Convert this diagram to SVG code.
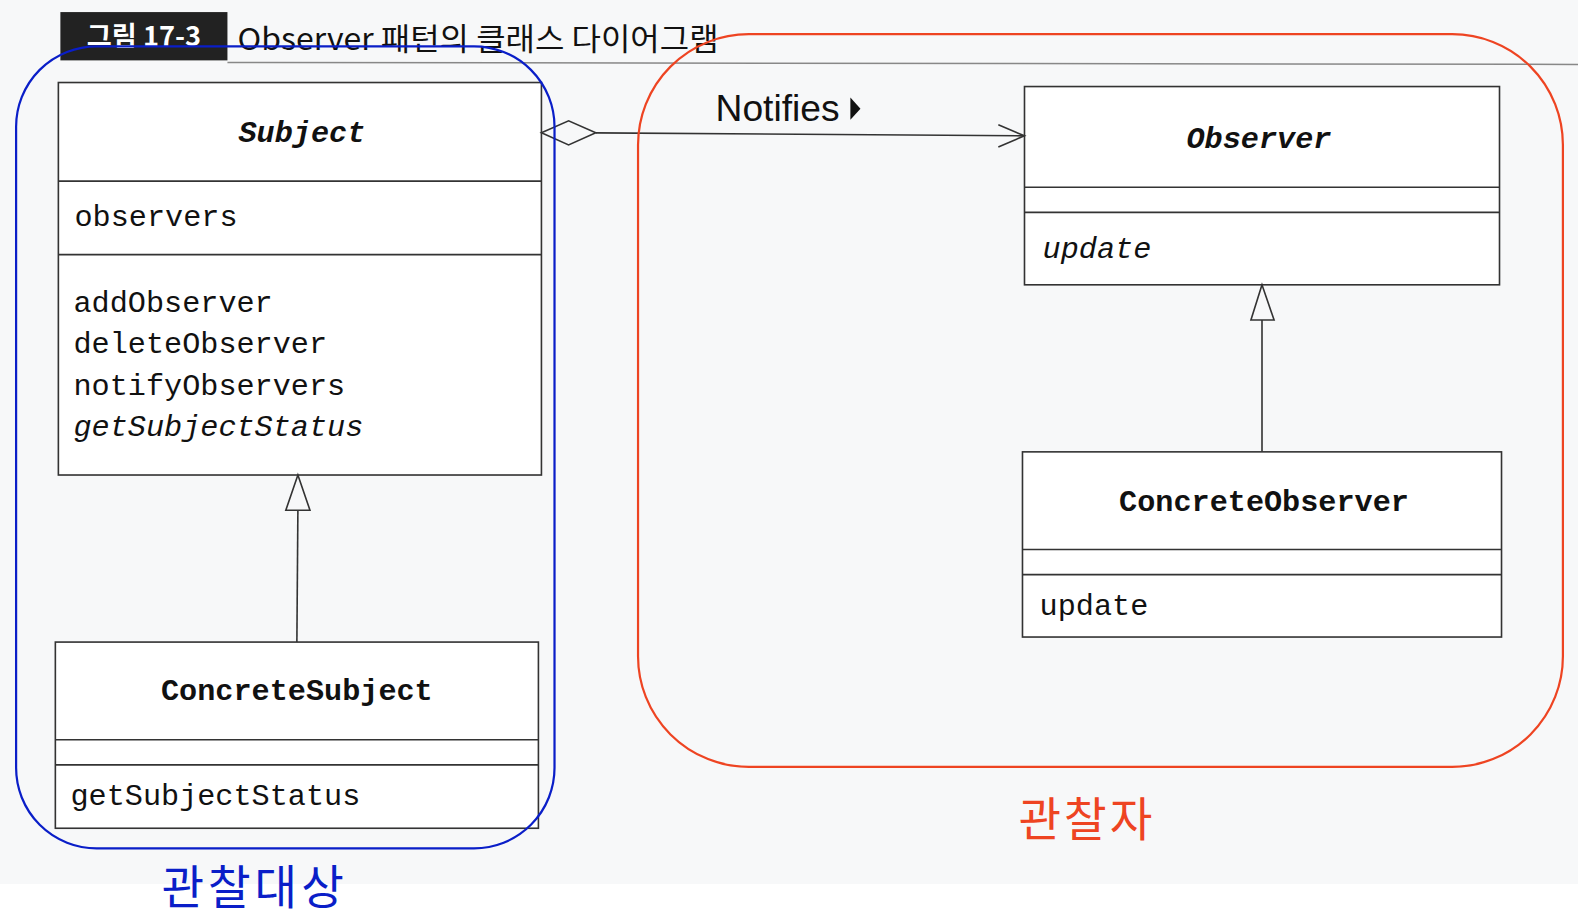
<svg xmlns="http://www.w3.org/2000/svg" width="1578" height="914" viewBox="0 0 1578 914">
<defs>
<style>
.box{fill:#fff;stroke:#333;stroke-width:1.6}
.div{stroke:#333;stroke-width:1.6}
.mono{font-family:"Liberation Mono","DejaVu Sans Mono",monospace;font-size:30px;fill:#111}
.title{font-weight:bold;font-style:italic;text-anchor:middle}
.bold{font-weight:bold;text-anchor:middle}
.it{font-style:italic}
.conn{fill:none;stroke:#333;stroke-width:1.6}
.kr{font-family:"Noto Sans CJK KR","Noto Sans",sans-serif}
</style>
</defs>
<rect x="0" y="0" width="1578" height="914" fill="#fff"/>
<rect x="0" y="0" width="1578" height="884" fill="#f7f8f9"/>
<g transform="scale(1.00638)">
<g id="header">
<rect x="60" y="12" width="166" height="48" fill="#222"/>
<text x="143" y="46" class="kr" font-size="27" font-weight="bold" fill="#fff" text-anchor="middle">그림 17-3</text>
<text x="236" y="50" class="kr" font-size="30" fill="#111" textLength="478" lengthAdjust="spacingAndGlyphs">Observer 패턴의 클래스 다이어그램</text>
<line x1="226" y1="62" x2="1568" y2="64" stroke="#888" stroke-width="1.5"/>
</g>
<g id="subject">
<rect class="box" x="58" y="82" width="480" height="390"/>
<line class="div" x1="58" y1="180" x2="538" y2="180"/>
<line class="div" x1="58" y1="253" x2="538" y2="253"/>
<text class="mono title" x="300" y="141">Subject</text>
<text class="mono" x="74" y="225">observers</text>
<text class="mono" x="73" y="310">addObserver</text>
<text class="mono" x="73" y="351">deleteObserver</text>
<text class="mono" x="73" y="392">notifyObservers</text>
<text class="mono it" x="73" y="433">getSubjectStatus</text>
</g>
<g id="concreteSubject">
<rect class="box" x="55" y="638" width="480" height="185"/>
<line class="div" x1="55" y1="735" x2="535" y2="735"/>
<line class="div" x1="55" y1="760" x2="535" y2="760"/>
<text class="mono bold" x="295" y="696">ConcreteSubject</text>
<text class="mono" x="70" y="800">getSubjectStatus</text>
</g>
<g id="observer">
<rect class="box" x="1018" y="86" width="472" height="197"/>
<line class="div" x1="1018" y1="186" x2="1490" y2="186"/>
<line class="div" x1="1018" y1="211" x2="1490" y2="211"/>
<text class="mono title" x="1251" y="147">Observer</text>
<text class="mono it" x="1036" y="256">update</text>
</g>
<g id="concreteObserver">
<rect class="box" x="1016" y="449" width="476" height="184"/>
<line class="div" x1="1016" y1="546" x2="1492" y2="546"/>
<line class="div" x1="1016" y1="571" x2="1492" y2="571"/>
<text class="mono bold" x="1256" y="508">ConcreteObserver</text>
<text class="mono" x="1033" y="611">update</text>
</g>
<g id="connectors">
<line class="conn" x1="296" y1="507" x2="295" y2="638"/>
<polygon class="conn" points="296,472 284,507 308,507" fill="#fff"/>
<line class="conn" x1="1254" y1="318" x2="1254" y2="449"/>
<polygon class="conn" points="1254,283 1243,318 1266,318" fill="#fff"/>
<polygon class="conn" points="538,132 565,120 592,132 565,144" fill="#fff"/>
<line class="conn" x1="592" y1="132" x2="1018" y2="135"/>
<polyline class="conn" points="992,124 1018,135 992,146"/>
<text x="711" y="120" font-family="Liberation Sans,Arial,sans-serif" font-size="37" fill="#111">Notifies</text>
<polygon points="845,97 855,108 845,119" fill="#111"/>
</g>
<g id="groups">
<rect x="16" y="46" width="535" height="797" rx="80" ry="80" fill="none" stroke="#0a1ec8" stroke-width="2.2"/>
<rect x="634" y="34" width="919" height="728" rx="110" ry="110" fill="none" stroke="#ee4422" stroke-width="2.2"/>
<text x="1080" y="831" class="kr" font-size="46" fill="#ee4422" text-anchor="middle" letter-spacing="3">관찰자</text>
<text x="253" y="898" class="kr" font-size="46" fill="#0a1ec8" text-anchor="middle" letter-spacing="4">관찰대상</text>
</g>
</g>
</svg>
